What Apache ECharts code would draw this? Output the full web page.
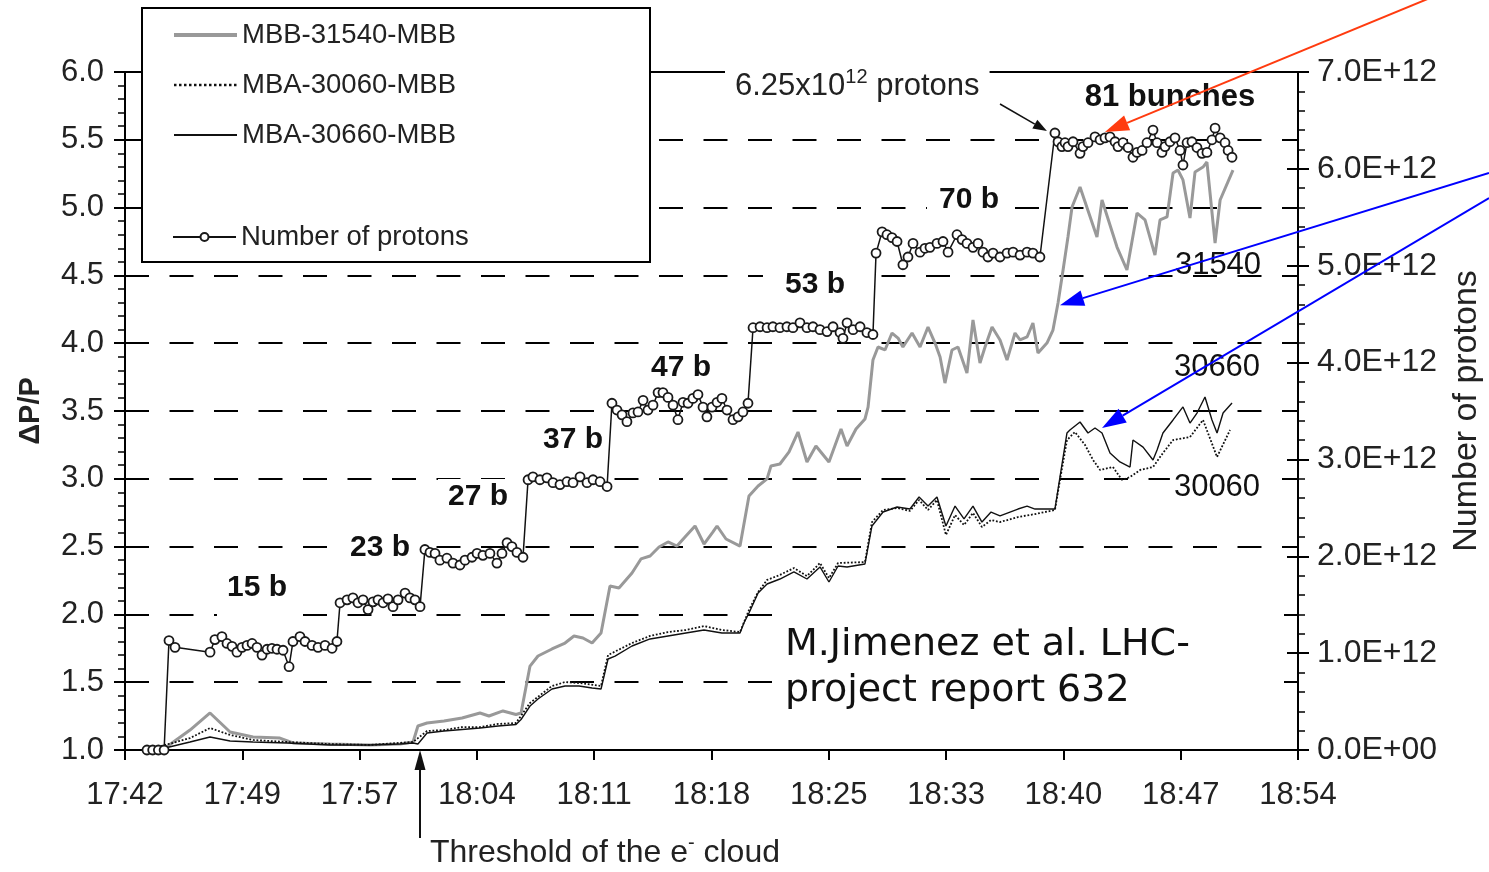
<!DOCTYPE html>
<html><head><meta charset="utf-8">
<script src="https://cdn.jsdelivr.net/npm/echarts@6/dist/echarts.min.js"></script>
<style>html,body{margin:0;padding:0;background:#fff}#c{width:1489px;height:872px}</style>
</head><body><div id="c"></div>
<script>
// time in minutes after 17:42
const timeLabels = ['17:42','17:49','17:57','18:04','18:11','18:18','18:25','18:33','18:40','18:47','18:54'];

// Number of protons (units of 1E12)
const protons = [[1.35,0],[1.7,0],[2.05,0],[2.4,0],
[2.70,1.13],[3.07,1.06],[5.22,1.01],[5.52,1.14],[5.95,1.17],[6.26,1.10],[6.57,1.07],[6.87,1.01],[7.18,1.06],[7.49,1.08],[7.80,1.10],[8.10,1.06],[8.41,0.98],[8.72,1.04],[9.02,1.05],[9.33,1.04],[9.70,1.03],[10.07,0.86],[10.31,1.12],[10.74,1.17],[11.05,1.12],[11.48,1.08],[11.85,1.06],[12.28,1.08],[12.71,1.05],[13.01,1.12],
[13.20,1.52],[13.63,1.55],[13.99,1.57],[14.30,1.52],[14.61,1.55],[14.92,1.45],[15.22,1.53],[15.53,1.55],[15.84,1.52],[16.14,1.56],[16.45,1.48],[16.76,1.55],[17.19,1.62],[17.49,1.57],[17.80,1.55],[18.11,1.48],
[18.41,2.07],[18.72,2.04],[19.03,2.03],[19.33,1.96],[19.76,1.98],[20.13,1.93],[20.56,1.91],[20.87,1.96],[21.30,1.99],[21.61,2.03],[21.97,2.01],[22.40,2.03],[22.83,1.93],[23.14,2.03],[23.45,2.14],[23.75,2.10],[24.06,2.04],[24.43,1.99],
[24.74,2.79],[25.04,2.82],[25.47,2.79],[25.90,2.81],[26.27,2.76],[26.70,2.74],[27.13,2.77],[27.50,2.76],[27.93,2.82],[28.36,2.76],[28.73,2.79],[29.16,2.77],[29.59,2.72],
[29.89,3.58],[30.20,3.51],[30.51,3.46],[30.81,3.39],[31.18,3.48],[31.49,3.49],[31.80,3.61],[32.10,3.51],[32.41,3.56],[32.72,3.69],[33.02,3.69],[33.33,3.64],[33.64,3.56],[33.94,3.41],[34.25,3.59],[34.56,3.58],[34.86,3.63],[35.17,3.67],[35.48,3.54],[35.72,3.44],[36.03,3.54],[36.34,3.59],[36.64,3.63],[36.95,3.51],[37.32,3.41],[37.63,3.44],[37.93,3.49],[38.24,3.58],
[38.55,4.36],[38.98,4.37],[39.41,4.36],[39.77,4.37],[40.20,4.36],[40.63,4.37],[41.00,4.36],[41.43,4.41],[41.86,4.36],[42.23,4.37],[42.66,4.34],[43.09,4.32],[43.46,4.37],[43.89,4.31],[44.07,4.25],[44.32,4.41],[44.69,4.34],[45.12,4.37],[45.54,4.31],[45.91,4.29],
[46.10,5.13],[46.47,5.35],[46.77,5.32],[47.08,5.29],[47.39,5.25],[47.75,5.01],[48.06,5.09],[48.37,5.23],[48.80,5.14],[49.10,5.18],[49.41,5.19],[49.84,5.23],[50.21,5.25],[50.52,5.14],[51.07,5.32],[51.38,5.27],[51.68,5.23],[52.05,5.19],[52.36,5.23],[52.66,5.14],[52.97,5.09],[53.28,5.13],[53.71,5.09],[54.14,5.13],[54.51,5.14],[54.94,5.11],[55.37,5.14],[55.73,5.13],[56.16,5.09],
[57.08,6.37],[57.27,6.28],[57.51,6.23],[57.70,6.27],[57.88,6.23],[58.19,6.28],[58.62,6.16],[58.80,6.23],[59.11,6.27],[59.54,6.33],[59.85,6.30],[60.15,6.32],[60.46,6.33],[60.77,6.28],[60.95,6.23],[61.26,6.27],[61.57,6.22],[61.87,6.12],[62.12,6.17],[62.43,6.19],[62.73,6.27],[63.10,6.40],[63.35,6.27],[63.65,6.17],[63.84,6.23],[64.14,6.28],[64.45,6.32],[64.76,6.19],[64.94,6.04],[65.19,6.27],[65.49,6.28],[65.80,6.22],[66.11,6.16],[66.41,6.17],[66.72,6.30],[66.91,6.42],[67.22,6.32],[67.52,6.27],[67.71,6.19],[67.95,6.12]];

// ΔP/P  MBB-31540-MBB
const mbb31540 = [[1.35,1.00],[2.46,1.015],[3.99,1.147],[5.22,1.273],[6.45,1.133],[7.86,1.096],[9.51,1.088],[10.31,1.052],[12.58,1.044],[15.04,1.037],[16.88,1.044],[17.68,1.059],
[17.98,1.177],[18.54,1.199],[19.58,1.214],[20.69,1.236],[21.79,1.273],[22.34,1.251],[23.20,1.288],[24.00,1.262],[24.31,1.273],
[24.86,1.619],[25.35,1.693],[26.21,1.745],[27.01,1.789],[27.56,1.841],[28.11,1.826],[28.67,1.789],[29.22,1.863],
[29.77,2.209],[30.32,2.195],[31.12,2.305],[31.67,2.409],[32.23,2.431],[32.78,2.497],[33.33,2.534],[33.88,2.504],[34.43,2.578],[34.99,2.652],[35.54,2.519],[36.09,2.608],[36.34,2.652],[36.89,2.556],[37.75,2.504],
[38.30,2.873],[38.86,2.947],[39.41,2.999],[39.65,3.094],[40.20,3.109],[40.76,3.198],[41.31,3.345],[41.86,3.124],[42.41,3.242],[43.21,3.124],[43.95,3.367],[44.32,3.242],[44.87,3.367],[45.42,3.441],
[45.61,3.529],[45.91,3.876],[46.22,3.972],[46.65,3.950],[47.08,4.075],[47.45,4.038],[47.75,3.972],[48.31,4.075],[48.80,3.972],[49.29,4.119],[49.72,4.001],[50.03,3.898],[50.33,3.706],[50.76,3.950],[51.13,3.972],[51.68,3.780],[52.05,4.171],[52.48,3.854],[52.79,3.972],[53.22,4.119],[53.71,4.024],[54.14,3.876],[54.63,4.075],[54.94,4.024],[55.37,4.046],[55.73,4.149],[56.04,3.928],[56.59,4.001],[56.96,4.097],
[57.27,4.296],[57.58,4.540],[57.88,4.783],[58.13,5.004],[58.62,5.152],[59.66,4.783],[59.97,5.056],[60.89,4.709],[61.50,4.540],[62.12,4.960],[62.61,4.909],[63.22,4.650],[63.53,4.909],[63.96,4.931],[64.33,5.255],[64.63,5.277],[64.94,5.204],[65.37,4.923],[65.68,5.263],[66.17,5.299],[66.41,5.336],[66.91,4.739],[67.22,5.056],[68.01,5.277]];

// ΔP/P  MBA-30060-MBB (dotted)
const mba30060 = [[1.35,1.00],[3.99,1.088],[5.22,1.162],[6.45,1.111],[7.86,1.074],[9.94,1.059],[12.58,1.044],[15.04,1.037],[17.68,1.059],
[18.54,1.140],[19.58,1.147],[20.69,1.169],[21.79,1.169],[22.90,1.192],[24.00,1.199],[24.86,1.347],[26.21,1.472],[27.01,1.501],[27.87,1.494],[29.22,1.472],
[29.65,1.700],[31.12,1.789],[32.23,1.841],[33.33,1.870],[34.43,1.885],[35.54,1.914],[36.64,1.885],[37.75,1.870],
[38.30,2.032],[38.86,2.165],[39.41,2.254],[40.20,2.291],[41.06,2.342],[41.86,2.283],[42.66,2.379],[43.21,2.268],[43.77,2.379],[45.42,2.386],
[45.85,2.681],[46.53,2.770],[47.39,2.785],[48.18,2.763],[48.74,2.844],[49.29,2.770],[49.84,2.844],[50.39,2.586],[50.95,2.733],[51.50,2.659],[52.05,2.748],[52.60,2.645],[53.16,2.696],[53.71,2.681],[54.81,2.718],[55.86,2.740],[57.08,2.770],
[57.39,2.991],[57.82,3.286],[58.31,3.345],[58.93,3.249],[59.42,3.139],[59.85,3.065],[60.64,3.087],[61.20,2.991],[61.69,3.013],[62.31,3.065],[63.10,3.087],[63.71,3.190],[64.33,3.286],[65.37,3.308],[66.17,3.434],[67.03,3.161],[67.83,3.360]];

// ΔP/P  MBA-30660-MBB (solid)
const mba30660 = [[1.35,1.00],[2.46,1.015],[3.99,1.059],[5.22,1.096],[6.45,1.066],[7.86,1.059],[9.94,1.052],[12.58,1.037],[15.04,1.037],[16.88,1.044],[17.68,1.052],[17.98,1.044],
[18.54,1.125],[19.58,1.140],[20.69,1.151],[21.79,1.162],[22.90,1.177],[24.00,1.188],[24.31,1.225],[24.86,1.324],[25.35,1.376],[26.21,1.450],[27.01,1.472],[27.87,1.472],[28.67,1.457],[29.22,1.450],
[29.65,1.671],[30.08,1.693],[31.12,1.767],[32.23,1.819],[33.33,1.841],[34.43,1.863],[35.54,1.885],[36.64,1.863],[37.75,1.863],
[37.99,1.937],[38.30,2.010],[38.86,2.158],[39.41,2.224],[40.20,2.261],[41.06,2.313],[41.86,2.261],[42.66,2.350],[43.21,2.239],[43.77,2.357],[44.32,2.350],[45.42,2.372],
[45.85,2.652],[46.53,2.755],[47.39,2.792],[48.18,2.777],[48.74,2.866],[49.29,2.799],[49.84,2.866],[50.39,2.652],[50.95,2.799],[51.50,2.704],[52.05,2.799],[52.60,2.681],[53.16,2.755],[53.71,2.726],[54.81,2.777],[55.37,2.799],[55.86,2.777],[57.08,2.777],
[57.39,3.013],[57.82,3.338],[58.00,3.360],[58.62,3.419],[59.11,3.338],[59.54,3.375],[59.97,3.338],[60.46,3.190],[61.07,3.124],[61.69,3.087],[61.87,3.286],[62.49,3.234],[63.10,3.139],[63.35,3.212],[63.71,3.338],[64.33,3.434],[64.94,3.530],[65.37,3.411],[65.80,3.485],[66.29,3.603],[66.72,3.434],[67.03,3.338],[67.40,3.485],[67.95,3.559]];

const FONT = '"Liberation Sans", Arial, sans-serif';
const chart = echarts.init(document.getElementById('c'), null, {renderer: 'canvas'});

const legendText = {fontSize: 27.5, color: '#222', lineHeight: 30, fontFamily: FONT};
const option = {
  animation: false,
  backgroundColor: '#fff',
  grid: {left: 125, right: 191, top: 72, bottom: 122, containLabel: false, outerBoundsMode: 'none',
         show: true, borderColor: '#000', borderWidth: 2, backgroundColor: 'transparent'},
  legend: [
    {data: [{name: 'MBB-31540-MBB', itemStyle: {opacity: 0}, lineStyle: {width: 4}},
            {name: 'MBA-30060-MBB', itemStyle: {opacity: 0}, lineStyle: {width: 2.5}},
            {name: 'MBA-30660-MBB', itemStyle: {opacity: 0}, lineStyle: {width: 2}}],
     orient: 'vertical', left: 172, top: 20, itemWidth: 63, itemHeight: 14, itemGap: 20, padding: 0, selectedMode: false, z: 200,
     textStyle: legendText},
    {data: [{name: 'Number of protons', lineStyle: {width: 2}}], orient: 'vertical', left: 172, top: 222, itemWidth: 63, itemHeight: 10, padding: 0, selectedMode: false, z: 200,
     textStyle: legendText}
  ],
  xAxis: {
    type: 'value', min: 0, max: 72, interval: 7.2,
    axisLine: {show: true, lineStyle: {color: '#000', width: 2}},
    axisTick: {show: true, length: 10, lineStyle: {color: '#000', width: 2}},
    axisLabel: {margin: 30, fontSize: 31, color: '#222', fontFamily: FONT, formatter: v => timeLabels[Math.round(v / 7.2)]},
    splitLine: {show: false}
  },
  yAxis: [
    {type: 'value', position: 'left', min: 1, max: 6, interval: 0.5,
     axisLine: {show: true, lineStyle: {color: '#000', width: 2}},
     axisTick: {show: true, length: 11, lineStyle: {color: '#000', width: 2}},
     minorTick: {show: true, splitNumber: 5, length: 7, lineStyle: {color: '#000', width: 1.5}},
     axisLabel: {margin: 21, fontSize: 31, color: '#222', fontFamily: FONT, formatter: v => v.toFixed(1)},
     splitLine: {show: true, lineStyle: {color: '#000', width: 2, type: [24, 20.5]}},
     name: 'ΔP/P', nameLocation: 'middle', nameGap: 80, nameRotate: 90,
     nameTextStyle: {fontSize: 29, fontWeight: 'bold', color: '#222', fontFamily: FONT}},
    {type: 'value', position: 'right', min: 0, max: 7, interval: 1,
     axisLine: {show: true, lineStyle: {color: '#000', width: 2}},
     axisTick: {show: true, length: 11, lineStyle: {color: '#000', width: 2}},
     minorTick: {show: true, splitNumber: 5, length: 7, lineStyle: {color: '#000', width: 1.5}},
     axisLabel: {margin: 19, fontSize: 32, color: '#222', fontFamily: FONT, formatter: v => v === 0 ? '0.0E+00' : v.toFixed(1) + 'E+12'},
     splitLine: {show: false},
     name: 'Number of protons', nameLocation: 'middle', nameGap: 152, nameRotate: 90,
     nameTextStyle: {fontSize: 34, color: '#222', fontFamily: FONT}},
    {type: 'value', position: 'right', min: 0, max: 7, interval: 1,
     axisLine: {show: false}, axisLabel: {show: false}, splitLine: {show: false},
     axisTick: {show: true, inside: true, length: 11, lineStyle: {color: '#000', width: 2}}}
  ],
  series: [
    {name: 'MBB-31540-MBB', type: 'line', yAxisIndex: 0, data: mbb31540, symbol: 'none', z: 3,
     lineStyle: {color: '#999999', width: 3}, itemStyle: {color: '#999999'}},
    {name: 'MBA-30060-MBB', type: 'line', yAxisIndex: 0, data: mba30060, symbol: 'none', z: 4,
     lineStyle: {color: '#111', width: 1.8, type: 'dotted'}, itemStyle: {color: '#111'}},
    {name: 'MBA-30660-MBB', type: 'line', yAxisIndex: 0, data: mba30660, symbol: 'none', z: 5,
     lineStyle: {color: '#111', width: 1.4}, itemStyle: {color: '#111'}},
    {name: 'Number of protons', type: 'line', yAxisIndex: 1, data: protons, symbol: 'circle', symbolSize: 9, z: 6,
     lineStyle: {color: '#111', width: 1.5}, itemStyle: {color: '#fff', borderColor: '#1a1a1a', borderWidth: 1.8}}
  ]
};
chart.setOption(option);

function px(t, v, axis) { return chart.convertToPixel({xAxisIndex: 0, yAxisIndex: axis}, [t, v]); }
function arrow(x1, y1, x2, y2, color, w, hl, hw) {
  const a = Math.atan2(y2 - y1, x2 - x1);
  const bx = x2 - hl * Math.cos(a), by = y2 - hl * Math.sin(a);
  const ox = -Math.sin(a) * hw / 2, oy = Math.cos(a) * hw / 2;
  return [
    {type: 'line', z: 150, shape: {x1: x1, y1: y1, x2: bx, y2: by}, style: {stroke: color, lineWidth: w}},
    {type: 'polygon', z: 150, shape: {points: [[x2, y2], [bx + ox, by + oy], [bx - ox, by - oy]]}, style: {fill: color}}
  ];
}
function label(text, cx, cy, opts) {
  const o = Object.assign({size: 30, weight: 'bold', pad: [3, 10, 3, 10], bg: '#fff', align: 'center', z: 1}, opts || {});
  return {type: 'text', z: o.z, x: cx, y: cy - o.size / 2 - o.pad[0],
    style: {text: text, fontSize: o.size, fontWeight: o.weight, fontFamily: FONT, fill: '#111',
      align: o.align, verticalAlign: 'top', backgroundColor: o.bg, padding: o.pad}};
}

const tipRed = px(60.15, 6.38, 1);
const tipBlue1 = px(57.39, 4.28, 0);
const tipBlue2 = px(59.97, 3.375, 0);
const tipThr = px(18.11, 1.0, 0);
const tip625 = px(56.59, 6.39, 1);

const graphic = [
  {type: 'rect', z: 120, shape: {x: 142, y: 8, width: 508, height: 254}, style: {fill: '#fff', stroke: '#000', lineWidth: 2}},
  {type: 'rect', z: 1, shape: {x: 776, y: 612, width: 508, height: 106}, style: {fill: '#fff'}},
  {type: 'text', z: 130, x: 785, y: 622, style: {text: 'M.Jimenez et al. LHC-\nproject report 632', fontSize: 38, lineHeight: 46, fontFamily: '"DejaVu Sans", Verdana, sans-serif', fill: '#111', align: 'left', verticalAlign: 'top'}},
  label('15 b', 258, 588, {pad: [3, 12, 18, 10]}),
  label('23 b', 380, 548),
  label('27 b', 478, 497),
  label('37 b', 573, 440),
  label('47 b', 681, 368),
  label('53 b', 816, 285, {pad: [3, 24, 3, 22]}),
  label('70 b', 968, 200, {pad: [3, 10, 3, 12]}),
  label('81 bunches', 1170, 97, {pad: [3, 8, 3, 8], size: 31}),
  label('31540', 1218, 265, {weight: 'normal', bg: 'transparent', size: 31, z: 130}),
  label('30660', 1217, 367, {weight: 'normal', bg: 'transparent', size: 31, z: 130}),
  label('30060', 1217, 487, {weight: 'normal', pad: [3, 4, 3, 4], size: 31}),
  {type: 'text', z: 130, x: 725, y: 67, style: {text: '6.25x10{sup|12} protons', fontSize: 31, fontFamily: FONT, fill: '#222', lineHeight: 38, align: 'left', verticalAlign: 'top', backgroundColor: '#fff', padding: [0, 10, 0, 10],
    rich: {sup: {fontSize: 20, fontFamily: FONT, fill: '#222', verticalAlign: 'top', lineHeight: 38}}}},
  {type: 'text', z: 130, x: 430, y: 833, style: {text: 'Threshold of the e{sup|-} cloud', fontSize: 32, fontFamily: FONT, fill: '#222', lineHeight: 40, align: 'left', verticalAlign: 'top',
    rich: {sup: {fontSize: 20, fontFamily: FONT, fill: '#222', verticalAlign: 'top', lineHeight: 40}}}}
].concat(
  arrow(1430, -2, tipRed[0], tipRed[1], '#ff3b0f', 2, 24, 16),
  arrow(1489, 173, tipBlue1[0], tipBlue1[1], '#0000ff', 2, 24, 16),
  arrow(1489, 198, tipBlue2[0], tipBlue2[1], '#0000ff', 2, 24, 16),
  arrow(420, 838, tipThr[0], tipThr[1], '#111', 2, 20, 11),
  arrow(1000, 104, tip625[0], tip625[1], '#111', 1.5, 14, 10)
);
chart.setOption({graphic: graphic});
</script>
</body></html>
